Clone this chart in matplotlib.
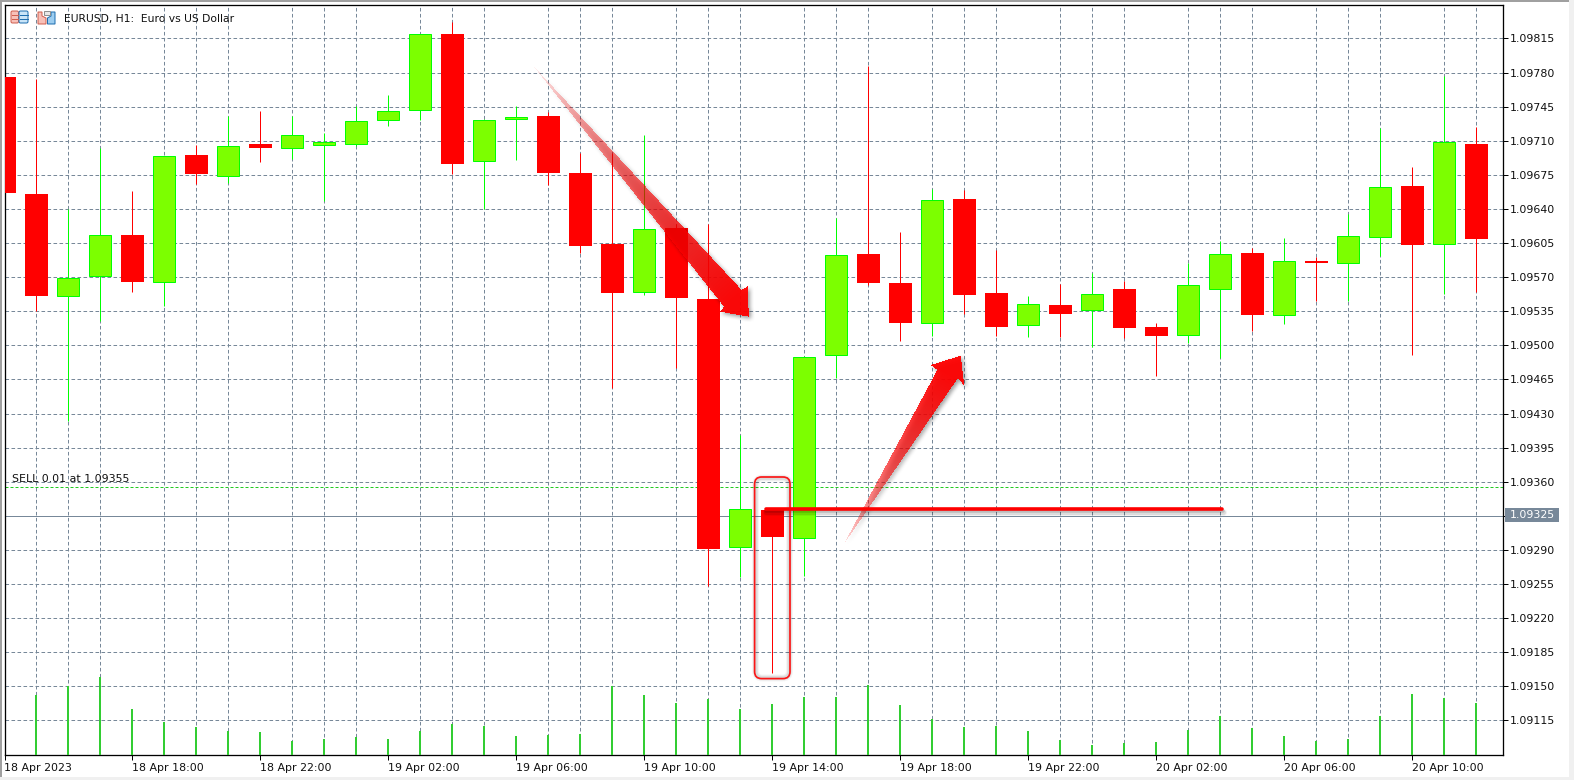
import matplotlib
matplotlib.use("Agg")
import matplotlib.pyplot as plt
from matplotlib.patches import Polygon, Rectangle, FancyBboxPatch
from matplotlib.path import Path
import numpy as np

plt.rcParams["lines.scale_dashes"] = False
plt.rcParams["font.family"] = ["DejaVu Sans"]

# ---- data ----
candle_index = list(range(47))
open_ = [109775,109655,109551,109571,109613,109565,109695,109674,109707,109702,109706,109707,
         109731,109742,109820,109689,109732,109735,109677,109604,109555,109620,109548,109293,
         109331,109302,109490,109594,109564,109523,109650,109554,109521,109541,109536,109558,
         109519,109511,109558,109595,109531,109587,109584,109611,109663,109604,109707]
close = [109656,109551,109569,109613,109565,109694,109676,109705,109702,109716,109709,109730,
         109741,109820,109686,109731,109734,109677,109602,109554,109619,109549,109291,109332,
         109303,109488,109593,109564,109523,109649,109552,109519,109542,109532,109553,109518,
         109510,109562,109594,109531,109587,109584,109612,109662,109603,109709,109609]
high =  [109775,109773,109640,109702,109658,109694,109706,109735,109741,109735,109718,109746,
         109757,109820,109832,109732,109746,109739,109697,109697,109716,109624,109624,109408,
         109331,109489,109631,109787,109616,109660,109659,109598,109551,109563,109574,109566,
         109523,109584,109607,109600,109610,109591,109635,109723,109683,109776,109724]
low =   [109656,109535,109422,109525,109555,109540,109666,109667,109688,109691,109648,109705,
         109725,109731,109676,109640,109690,109665,109595,109456,109552,109477,109253,109262,
         109164,109263,109466,109562,109504,109510,109532,109510,109509,109509,109498,109508,
         109469,109502,109487,109515,109522,109545,109545,109592,109490,109553,109555]
volume_index = list(range(1, 47))
volume = [592,689,773,457,326,276,239,229,134,155,178,155,239,306,286,185,195,205,682,592,518,
          558,457,508,578,578,699,497,356,276,286,239,145,94,118,124,245,387,266,185,134,155,
          387,610,570,520]
price_ticks = [109115 + 35 * k for k in range(21)]
price_labels = ["1.09115","1.09150","1.09185","1.09220","1.09255","1.09290","","1.09360",
                "1.09395","1.09430","1.09465","1.09500","1.09535","1.09570","1.09605","1.09640",
                "1.09675","1.09710","1.09745","1.09780","1.09815"]
time_ticks = list(range(0, 45, 4))
time_labels = ["18 Apr 2023","18 Apr 18:00","18 Apr 22:00","19 Apr 02:00","19 Apr 06:00",
               "19 Apr 10:00","19 Apr 14:00","19 Apr 18:00","19 Apr 22:00","20 Apr 02:00",
               "20 Apr 06:00","20 Apr 10:00"]
bid_price = 109325
sell_price = 109355
title_text = "EURUSD, H1:  Euro vs US Dollar"
sell_text = "SELL 0.01 at 1.09355"
bid_text = "1.09325"

# ---- styles ----
RED = "#FF0000"; LIME = "#00FF00"; FILL = "#7CFF00"; GRID = "#778899"; VOL = "#32CD32"
W, H = 1574, 780
FS = 7.9
px = 0.72  # one pixel in points

fig = plt.figure(figsize=(W / 100, H / 100), dpi=100, facecolor="white")
axes_rect = [4.5 / W, (H - 754.5) / H, 1498 / W, 750 / H]
ax = fig.add_axes(axes_rect)
ax.set_facecolor("white")
ax.set_xlim((4.5 - 4.3) / 32, (1502.5 - 4.3) / 32)
ax.set_ylim(109080, 109849.8)

for s in ax.spines.values():
    s.set_linewidth(px * 1.3)
    s.set_color("black")

# grid
dash = (0, (3.6 * px, 2.4 * px))
ax.set_xticks(candle_index, minor=True)
ax.grid(True, which="minor", axis="x", color=GRID, lw=px, linestyle=dash, zorder=1)
ax.set_yticks(price_ticks)
ax.grid(True, which="major", axis="y", color=GRID, lw=px, linestyle=dash, zorder=1)
ax.set_axisbelow(True)
ax.tick_params(axis="x", which="minor", length=0)
ax.set_xticks(time_ticks)
ax.set_xticklabels(time_labels, ha="left", fontsize=FS)
ax.tick_params(axis="x", which="major", length=5 * px, width=px, pad=2.2, color="black",
               labelcolor="#101010")
ax.yaxis.tick_right()
ax.set_yticklabels(price_labels, fontsize=FS)
ax.tick_params(axis="y", which="major", length=5 * px, width=px, pad=1.6, color="black",
               labelcolor="#101010")

# levels
ax.axhline(sell_price, color="#22CC22", lw=px, linestyle=(0, (3 * px, 2 * px)), zorder=1.5)
ax.axhline(bid_price, color=GRID, lw=px, zorder=1.5)

# candles
o = np.array(open_); c = np.array(close); hi = np.array(high); lo = np.array(low)
x = np.array(candle_index)
up = c > o
w_up = ax.vlines(x[up], lo[up], hi[up], color=LIME, lw=px, zorder=2)
w_dn = ax.vlines(x[~up], lo[~up], hi[~up], color=RED, lw=px, zorder=2)
w_up.set_snap(True); w_dn.set_snap(True)
ax.bar(x[~up], (o - c)[~up], bottom=c[~up], width=23 / 32, color=RED, linewidth=0, zorder=3)
ax.bar(x[up], (c - o)[up], bottom=o[up], width=22 / 32, color=FILL, edgecolor=LIME,
       linewidth=px, zorder=3)

# volumes, on their own transparent axes with the same frame
axv = fig.add_axes(axes_rect, zorder=2)
axv.patch.set_alpha(0)
axv.set_ylim(0, 7500)
axv.set_xlim(ax.get_xlim())
axv.axis("off")
axv.bar(np.array(volume_index) - 0.3 / 32, volume, width=2 / 32, color=VOL, linewidth=0)

# overlay in picture pixels for the annotations
ov = fig.add_axes([0, 0, 1, 1], zorder=5)
ov.patch.set_alpha(0)


def blur(a, k=5, passes=2):
    kern = np.ones(k) / k
    for _ in range(passes):
        a = np.apply_along_axis(lambda m: np.convolve(m, kern, mode="same"), 0, a)
        a = np.apply_along_axis(lambda m: np.convolve(m, kern, mode="same"), 1, a)
    return a


def arrow(tail, j1, j2, b1, tip, b2, alpha_pow):
    tail = np.array(tail, float)
    base = (np.array(j1, float) + np.array(j2, float)) / 2
    outline = np.array([tail, j1, b1, tip, b2, j2])
    x0, y0 = np.floor(outline.min(axis=0)) - 12
    x1, y1 = np.ceil(outline.max(axis=0)) + 12
    xs = np.arange(x0, x1) + 0.5
    ys = np.arange(y0, y1) + 0.5
    gx, gy = np.meshgrid(xs, ys)
    pts = np.column_stack([gx.ravel(), gy.ravel()])
    mask = Path(outline).contains_points(pts).reshape(gx.shape).astype(float)
    d = base - tail
    t = np.clip(((gx - tail[0]) * d[0] + (gy - tail[1]) * d[1]) / (d @ d), 0, 1)
    a_red = mask * 0.95 * t ** alpha_pow
    a_sh = 0.42 * np.roll(np.roll(blur(a_red), 2, axis=0), 2, axis=1)
    a = a_red + a_sh * (1 - a_red)
    rgba = np.zeros(gx.shape + (4,))
    with np.errstate(invalid="ignore", divide="ignore"):
        rgba[..., 0] = np.where(a > 0, a_red / a, 0)
    rgba[..., 3] = a
    ov.imshow(rgba, extent=(x0, x1, y1, y0), interpolation="nearest", aspect="auto", zorder=5)


# falling arrow
arrow((531.7, 64), (741.7, 290), (724, 306.7), (748, 286), (748.7, 316.7), (720, 311.7), 0.7)
# rising arrow
arrow((843.3, 545), (937.3, 370), (958, 378), (930.7, 365), (960.7, 355.7), (964.3, 386), 0.55)

ov.set_xlim(0, W); ov.set_ylim(H, 0); ov.axis("off")

# rounded box with soft glow
for lw_, a_ in ((7, 0.04), (5, 0.05), (3.5, 0.06)):
    ov.add_patch(FancyBboxPatch((755.5, 478), 34, 200, boxstyle="round,pad=0,rounding_size=7",
                                fc="none", ec="black", lw=lw_ * px, alpha=a_, zorder=6))
ov.add_patch(FancyBboxPatch((754.6, 477), 35.4, 201.6, boxstyle="round,pad=0,rounding_size=7",
                            fc="none", ec=RED, lw=1.7 * px, alpha=0.9, zorder=7))

# horizontal stroke with shadow
for off, lw_, a_ in ((3, 7, 0.05), (2.5, 5, 0.09), (2, 3.5, 0.14)):
    ov.plot([766, 1223], [509.3 + off, 509.3 + off], color="black", lw=lw_ * px, alpha=a_,
            solid_capstyle="round", zorder=6)
ov.plot([765.5, 1222], [509.3, 509.3], color=RED, lw=3.6 * px, solid_capstyle="round", zorder=7)

# texts
ov.text(12, 479, sell_text, fontsize=FS, ha="left", va="center", color="#101010", zorder=8)
ov.text(63.5, 18.8, title_text, fontsize=7.75, ha="left", va="center", color="#101010", zorder=8)
ov.add_patch(Rectangle((1505, 508.3), 54, 13.4, fc=GRID, ec="none", zorder=8))
ov.text(1532, 515.2, bid_text, fontsize=FS, ha="center", va="center", color="white", zorder=9)

# window edges
ov.add_patch(Rectangle((0, 0), W, 2, fc="#A0A0A0", ec="none", zorder=9))
ov.add_patch(Rectangle((0, 0), 2, H, fc="#A0A0A0", ec="none", zorder=9))
ov.add_patch(Rectangle((1568.5, 0), 5.5, H, fc="#F0F0F0", ec="none", zorder=9))
ov.add_patch(Rectangle((0, 776.5), W, 3.5, fc="#F0F0F0", ec="none", zorder=9))

# toolbar icons
ov.add_patch(FancyBboxPatch((11, 11), 7.5, 12, boxstyle="round,pad=0,rounding_size=1.5",
                            fc="#F8C0B8", ec="#D06050", lw=px, zorder=8))
ov.add_patch(FancyBboxPatch((19, 11), 9, 12, boxstyle="round,pad=0,rounding_size=1.5",
                            fc="#C8E4F8", ec="#1F6FB0", lw=px, zorder=8))
for yy in (15, 18.5):
    ov.plot([11.5, 18], [yy, yy], color="#D06050", lw=px, zorder=9)
    ov.plot([19.5, 27.5], [yy, yy], color="#1F6FB0", lw=px, zorder=9)
ov.add_patch(Polygon([(38, 12), (42, 12), (42, 16), (46, 18), (46, 24), (38, 24)], closed=True,
                     fc="#F8C0B8", ec="#D06050", lw=px, zorder=8))
ov.add_patch(Polygon([(47.5, 18), (51, 16), (51, 12), (55, 12), (55, 24), (47.5, 24)], closed=True,
                     fc="#9CCDF0", ec="#1F6FB0", lw=px, zorder=8))
ov.add_patch(Rectangle((44, 11), 5.5, 3.5, fc="#E8E8E8", ec="#909090", lw=px, zorder=8))

fig.savefig("out.png", dpi=100, facecolor="white")
